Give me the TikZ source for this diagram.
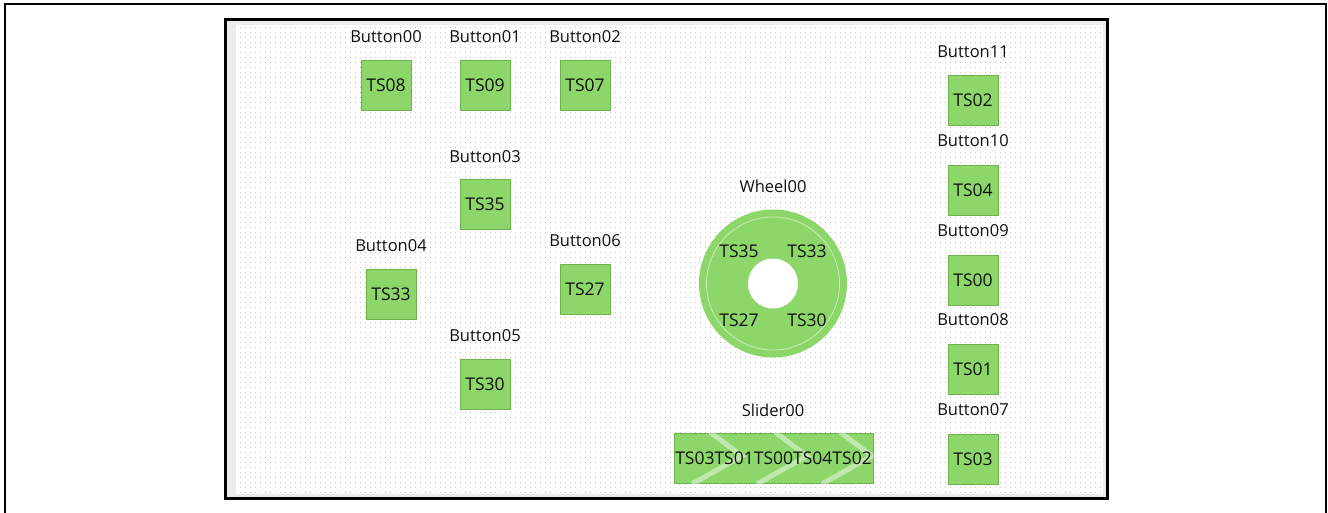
\documentclass[tikz,border=0pt]{standalone}
\usepackage{fontspec}
\setmainfont{Open Sans}
\usetikzlibrary{patterns}
\pgfdeclarepatternformonly{pxdots}{\pgfpointorigin}{\pgfpoint{5pt}{5pt}}{\pgfpoint{5pt}{5pt}}{\pgfpathrectangle{\pgfpointorigin}{\pgfpoint{1pt}{1pt}}\pgfusepath{fill}}
\definecolor{tsgreen}{HTML}{8CD66A}
\definecolor{tsedge}{HTML}{6DB34E}
\definecolor{panelgray}{HTML}{ECECEC}
\definecolor{dotgray}{HTML}{C4C4C4}
\definecolor{txt}{HTML}{101010}
\begin{document}
\begin{tikzpicture}[x=1pt,y=-1pt,
  tsbox/.style={draw=tsedge, fill=tsgreen, line width=1pt, minimum width=50pt, minimum height=50pt, inner sep=0pt, font=\fontsize{17.5}{20}\selectfont, text=txt},
  tslabel/.style={font=\fontsize{16.5}{19}\selectfont, text=txt, inner sep=0pt},
  wtext/.style={font=\fontsize{17.5}{20}\selectfont, text=txt, inner sep=0pt},
  stripe/.style={draw=white, draw opacity=0.45, line width=5pt}]
\useasboundingbox (0,0) rectangle (1328,512);
% outer frame
\draw[line width=2.5pt] (5,520) -- (5,4) -- (1326,4) -- (1326,520);
% inner panel
\fill[panelgray] (226,20) rectangle (1107,498);
\fill[white] (236,25) rectangle (1103,494);
\fill[pattern=pxdots, pattern color=dotgray] (236,25) rectangle (1103,494);
\draw[line width=3pt] (225,19.5) rectangle (1107.5,498.5);
% left buttons
\node[tslabel] (l00) at (386,37) {Button00};
\node[tsbox] (b00) at (386,85) {TS08};
\node[tslabel] (l01) at (485,37) {Button01};
\node[tsbox] (b01) at (485,85) {TS09};
\node[tslabel] (l02) at (585,37) {Button02};
\node[tsbox] (b02) at (585,85) {TS07};
\node[tslabel] (l03) at (485,157) {Button03};
\node[tsbox] (b03) at (485,204) {TS35};
\node[tslabel] (l04) at (391,246) {Button04};
\node[tsbox] (b04) at (391,294) {TS33};
\node[tslabel] (l06) at (585,241) {Button06};
\node[tsbox] (b06) at (585,289) {TS27};
\node[tslabel] (l05) at (485,336) {Button05};
\node[tsbox] (b05) at (485,384) {TS30};
% right column
\node[tslabel] (l11) at (973,52) {Button11};
\node[tsbox] (b11) at (973,100) {TS02};
\node[tslabel] (l10) at (973,141) {Button10};
\node[tsbox] (b10) at (973,190) {TS04};
\node[tslabel] (l09) at (973,231) {Button09};
\node[tsbox] (b09) at (973,280) {TS00};
\node[tslabel] (l08) at (973,320) {Button08};
\node[tsbox] (b08) at (973,369) {TS01};
\node[tslabel] (l07) at (973,410) {Button07};
\node[tsbox] (b07) at (973,459) {TS03};
% wheel
\node[tslabel] (lw) at (773,186) {Wheel00};
\node[circle, fill=tsgreen, minimum size=148pt, inner sep=0pt] (w00) at (773,283.5) {};
\draw[white!55!tsgreen, line width=0.8pt] (w00.center) circle (66.5);
\node[circle, fill=white, minimum size=50pt, inner sep=0pt] (hole) at (w00.center) {};
\node[wtext] (w1) at (739,251) {TS35};
\node[wtext] (w2) at (807,251) {TS33};
\node[wtext] (w3) at (739,320) {TS27};
\node[wtext] (w4) at (807,320) {TS30};
% slider
\node[tslabel] (ls) at (773,410) {Slider00};
\node[tsbox, minimum width=199pt] (s00) at (773.5,458) {};
\begin{scope}
\clip (s00.south west) rectangle (s00.north east);
\foreach \k in {0,1,2} {
  \draw[stripe] ({710+65*\k},432) -- ({742+65*\k},456) -- ({692+65*\k},484);
}
\end{scope}
\node[wtext] (st) at (s00.center) {TS03TS01TS00TS04TS02};
\end{tikzpicture}
\end{document}
